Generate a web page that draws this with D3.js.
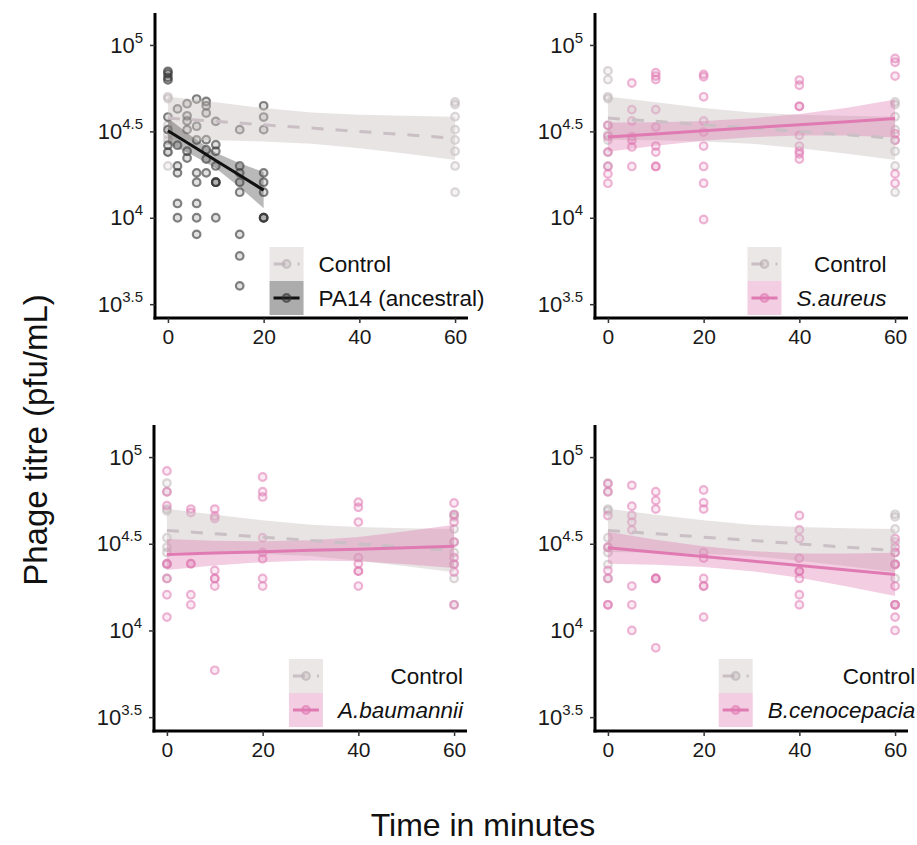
<!DOCTYPE html>
<html>
<head>
<meta charset="utf-8">
<script src="https://cdn.jsdelivr.net/npm/d3@7"></script>
<style>
  body { margin: 0; background: #fff; }
  text { font-family: "Liberation Sans", Arial, Helvetica, sans-serif; }
</style>
</head>
<body>
<svg id="chart" width="917" height="845"></svg>
<script>
// log10 phage titre (pfu/mL)
const controlTimes = [0, 60];
const controlLog = [
  [4.85, 4.80, 4.70, 4.69, 4.535, 4.48, 4.45, 4.38, 4.30],
  [4.67, 4.655, 4.585, 4.51, 4.45, 4.385, 4.30, 4.148]
];

const pa14Times = [0, 2, 4, 6, 8, 10, 15, 20];
const pa14Log = [
  [4.846, 4.833, 4.813, 4.798, 4.583, 4.51, 4.42, 4.38],
  [4.63, 4.42, 4.30, 4.26, 4.083, 4.0],
  [4.66, 4.59, 4.56, 4.51, 4.385, 4.346],
  [4.687, 4.53, 4.45, 4.26, 4.206, 4.083, 4.0, 3.904],
  [4.673, 4.648, 4.606, 4.452, 4.394, 4.34, 4.26],
  [4.558, 4.423, 4.385, 4.30, 4.206, 4.206, 4.206, 4.0],
  [4.51, 4.30, 4.26, 4.206, 4.148, 3.904, 3.779, 3.606],
  [4.648, 4.583, 4.51, 4.26, 4.206, 4.148, 4.0, 4.0, 4.0]
];

const sampleTimes = [0, 5, 10, 20, 40, 60];
const saureusLog = [
  [4.535, 4.47, 4.38, 4.297, 4.254, 4.20],
  [4.78, 4.626, 4.56, 4.47, 4.448, 4.41, 4.297],
  [4.84, 4.82, 4.80, 4.626, 4.525, 4.415, 4.38, 4.297, 4.297],
  [4.83, 4.816, 4.70, 4.56, 4.496, 4.415, 4.297, 4.20, 3.99],
  [4.797, 4.767, 4.645, 4.645, 4.477, 4.415, 4.386, 4.37, 4.34],
  [4.922, 4.90, 4.82, 4.486, 4.448, 4.254, 4.20]
];
const abaumanniiLog = [
  [4.92, 4.80, 4.72, 4.385, 4.385, 4.30, 4.206, 4.077],
  [4.70, 4.68, 4.385, 4.385, 4.206, 4.148],
  [4.70, 4.66, 4.645, 4.346, 4.30, 4.30, 4.256, 3.77],
  [4.885, 4.80, 4.77, 4.535, 4.45, 4.413, 4.30, 4.256],
  [4.74, 4.71, 4.625, 4.42, 4.385, 4.342, 4.342, 4.256],
  [4.735, 4.667, 4.625, 4.51, 4.42, 4.38, 4.337, 4.148]
];
const bcenoLog = [
  [4.846, 4.80, 4.663, 4.48, 4.346, 4.30, 4.148, 4.148],
  [4.837, 4.717, 4.663, 4.625, 4.58, 4.256, 4.148, 4.0],
  [4.80, 4.75, 4.70, 4.30, 4.30, 4.30, 3.90],
  [4.81, 4.737, 4.70, 4.45, 4.417, 4.30, 4.256, 4.256, 4.077],
  [4.663, 4.58, 4.53, 4.417, 4.342, 4.342, 4.30, 4.206, 4.148],
  [4.53, 4.48, 4.45, 4.38, 4.38, 4.256, 4.148, 4.148, 4.077, 4.0]
];

// fitted lines with 95% bands
const fitTimes = [0, 10, 20, 30, 40, 50, 60];
const controlFit = [4.577, 4.558, 4.538, 4.519, 4.499, 4.480, 4.460];
const controlLo  = [4.452, 4.448, 4.441, 4.429, 4.402, 4.370, 4.335];
const controlHi  = [4.702, 4.668, 4.635, 4.609, 4.596, 4.590, 4.585];

const pa14FitTimes = [0, 5, 10, 15, 20];
const pa14Fit = [4.504, 4.418, 4.332, 4.246, 4.160];
const pa14Lo  = [4.430, 4.365, 4.287, 4.176, 4.055];
const pa14Hi  = [4.578, 4.471, 4.377, 4.316, 4.265];

const saureusFit = [4.467, 4.485, 4.503, 4.521, 4.538, 4.556, 4.574];
const saureusLo  = [4.382, 4.417, 4.446, 4.466, 4.476, 4.476, 4.464];
const saureusHi  = [4.552, 4.553, 4.560, 4.576, 4.600, 4.636, 4.684];

const abaumanniiFit = [4.438, 4.446, 4.454, 4.462, 4.469, 4.477, 4.485];
const abaumanniiLo  = [4.348, 4.374, 4.394, 4.404, 4.399, 4.382, 4.360];
const abaumanniiHi  = [4.528, 4.518, 4.514, 4.520, 4.539, 4.572, 4.610];

const bcenoFit = [4.477, 4.451, 4.426, 4.400, 4.374, 4.349, 4.323];
const bcenoLo  = [4.385, 4.379, 4.366, 4.342, 4.304, 4.254, 4.198];
const bcenoHi  = [4.569, 4.523, 4.486, 4.458, 4.444, 4.444, 4.448];

const xTicks = [0, 20, 40, 60];
const yTicks = [3.5, 4, 4.5, 5];

const grey = {point: "#b9b1b4", band: "#cdc3c3", line: "#c9bfc4", ptOp: 0.5};
const dark = {point: "#333333", band: "#4a4646", line: "#111111", ptOp: 0.6};
const pink = {point: "#e07ab2", band: "#dd74ad", line: "#e07ab2", ptOp: 0.55};

const panels = [
  {x0: 155, y0: 13, y1: 318, name: "PA14 (ancestral)", italic: false, anchor: "start",
   col: dark, times: pa14Times, vals: pa14Log, ft: pa14FitTimes, fit: pa14Fit, lo: pa14Lo, hi: pa14Hi},
  {x0: 595, y0: 13, y1: 318, name: "S.aureus", italic: true, anchor: "end",
   col: pink, times: sampleTimes, vals: saureusLog, ft: fitTimes, fit: saureusFit, lo: saureusLo, hi: saureusHi},
  {x0: 154, y0: 425, y1: 731, name: "A.baumannii", italic: true, anchor: "end",
   col: pink, times: sampleTimes, vals: abaumanniiLog, ft: fitTimes, fit: abaumanniiFit, lo: abaumanniiLo, hi: abaumanniiHi},
  {x0: 595, y0: 425, y1: 731, name: "B.cenocepacia", italic: true, anchor: "end",
   col: pink, times: sampleTimes, vals: bcenoLog, ft: fitTimes, fit: bcenoFit, lo: bcenoLo, hi: bcenoHi}
];

const svg = d3.select("#chart");

function flatten(times, vals) {
  let out = [];
  times.forEach((t, i) => vals[i].forEach(v => out.push([t, v])));
  return out;
}

panels.forEach(p => {
  const x = d3.scaleLinear().domain([-2.7, 62.7]).range([p.x0, p.x0 + 313]);
  const y = d3.scaleLinear().domain([3.42, 5.185]).range([p.y1, p.y0]);
  const g = svg.append("g");

  const area = (lo, hi, ts) => d3.area().x((d, i) => x(ts[i])).y0((d, i) => y(lo[i])).y1((d, i) => y(hi[i]))(lo);
  const line = (f, ts) => d3.line().x((d, i) => x(ts[i])).y(d => y(d))(f);

  const dots = (data, col) => g.append("g").selectAll("circle")
      .data(data).enter().append("circle")
      .attr("cx", d => x(d[0])).attr("cy", d => y(d[1])).attr("r", 3.8)
      .attr("fill", col.point).attr("fill-opacity", 0.15)
      .attr("stroke", col.point).attr("stroke-opacity", col.ptOp).attr("stroke-width", 2.2);

  dots(flatten(controlTimes, controlLog), grey);
  dots(flatten(p.times, p.vals), p.col);

  g.append("path").attr("d", area(controlLo, controlHi, fitTimes))
    .attr("fill", grey.band).attr("fill-opacity", 0.45);
  g.append("path").attr("d", area(p.lo, p.hi, p.ft))
    .attr("fill", p.col.band).attr("fill-opacity", p.col === dark ? 0.38 : 0.35);

  g.append("path").attr("d", line(controlFit, fitTimes))
    .attr("fill", "none").attr("stroke", grey.line).attr("stroke-width", 3)
    .attr("stroke-dasharray", "12,12");
  g.append("path").attr("d", line(p.fit, p.ft))
    .attr("fill", "none").attr("stroke", p.col.line).attr("stroke-width", 3);

  // axes
  const ya = g.append("g").attr("transform", `translate(${p.x0},0)`)
    .call(d3.axisLeft(y).tickValues(yTicks).tickSize(5).tickSizeOuter(0).tickPadding(7));
  ya.selectAll("text").text(null).attr("font-size", 22).attr("fill", "#1a1a1a")
    .each(function(d) {
      const t = d3.select(this);
      t.append("tspan").text("10");
      t.append("tspan").attr("font-size", 15).attr("dy", -10).text(d % 1 ? d : d.toFixed(0));
    });
  const xa = g.append("g").attr("transform", `translate(0,${p.y1})`)
    .call(d3.axisBottom(x).tickValues(xTicks).tickSize(5).tickSizeOuter(0).tickPadding(6));
  xa.selectAll("text").attr("font-size", 21).attr("fill", "#1a1a1a");
  [ya, xa].forEach(a => {
    a.select(".domain").attr("stroke", "#000").attr("stroke-width", 3);
    a.selectAll(".tick line").attr("stroke", "#333").attr("stroke-width", 1.5);
  });
  ya.select(".domain").attr("d", `M0,${p.y0}V${p.y1 + 1.5}`);
  xa.select(".domain").attr("d", `M${p.x0 - 1.5},0H${p.x0 + 313}`);

  // legend
  const lg = g.append("g");
  const labels = ["Control", p.name];
  const texts = labels.map((s, i) => lg.append("text").text(s).attr("font-size", 22.5)
    .attr("font-style", i === 1 && p.italic ? "italic" : "normal").attr("fill", "#111"));
  const w = d3.max(texts, t => t.node().getComputedTextLength());
  const left = p.x0 + 222 - (34 + 15 + w) / 2;
  const top = p.y0 + 234;
  texts.forEach((t, i) => t.attr("x", p.anchor === "end" ? left + 49 + w : left + 49)
    .attr("text-anchor", p.anchor).attr("y", top + 34 * i + 25));
  [[grey, true], [p.col, false]].forEach(([c, dashed], i) => {
    const ky = top + 34 * i;
    lg.append("rect").attr("x", left).attr("y", ky).attr("width", 34).attr("height", 34)
      .attr("fill", c.band).attr("fill-opacity", c === dark ? 0.45 : (c === grey ? 0.4 : 0.35));
    lg.append("line").attr("x1", left + 4).attr("x2", left + 30).attr("y1", ky + 17).attr("y2", ky + 17)
      .attr("stroke", c.line).attr("stroke-width", 3)
      .attr("stroke-dasharray", dashed ? "12,12" : null);
    lg.append("circle").attr("cx", left + 17).attr("cy", ky + 17).attr("r", 3.8)
      .attr("fill", c.point).attr("fill-opacity", 0.3)
      .attr("stroke", c.point).attr("stroke-opacity", 0.65).attr("stroke-width", 2.2);
  });
});

svg.append("text").attr("transform", "translate(47,440) rotate(-90)")
  .attr("text-anchor", "middle").attr("font-size", 33).attr("fill", "#111")
  .text("Phage titre (pfu/mL)");
svg.append("text").attr("x", 483).attr("y", 836)
  .attr("text-anchor", "middle").attr("font-size", 32).attr("fill", "#111")
  .text("Time in minutes");
</script>
</body>
</html>
